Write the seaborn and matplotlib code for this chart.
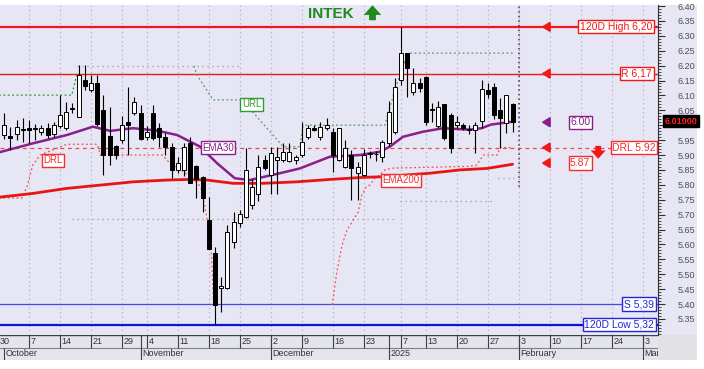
import matplotlib
matplotlib.use("Agg")
import matplotlib.pyplot as plt
import seaborn as sns
from matplotlib.patches import Rectangle

# ---------------- data ----------------
day = list(range(83))
opens = [5.966, 5.964, 5.969, 5.986, 5.992, 5.987, 5.978, 5.992, 5.969, 5.998,
         5.991, 6.057, 6.028, 6.152, 6.118, 6.141, 6.051, 5.964, 5.931, 5.950,
         6.012, 6.040, 6.040, 5.959, 6.040, 5.990, 5.961, 5.928, 5.850, 5.850,
         5.941, 5.863, 5.827, 5.682, 5.571, 5.454, 5.453, 5.609, 5.672, 5.693,
         5.732, 5.770, 5.883, 5.833, 5.883, 5.883, 5.880, 5.883, 5.900, 5.961,
         5.990, 5.959, 5.990, 5.978, 5.883, 5.861, 5.900, 5.838, 5.833, 5.903,
         5.902, 5.894, 5.939, 5.978, 6.152, 6.241, 6.112, 6.141, 6.163, 6.052,
         5.999, 6.070, 6.034, 6.000, 6.000, 5.984, 5.984, 6.015, 6.118, 6.129,
         6.051, 6.006, 6.071]
highs = [6.040, 5.995, 6.017, 6.024, 6.017, 6.004, 6.000, 6.007, 6.010, 6.100,
         6.078, 6.076, 6.202, 6.202, 6.168, 6.168, 6.101, 6.061, 5.935, 6.030,
         6.128, 6.094, 6.067, 5.997, 6.067, 6.007, 5.973, 5.940, 5.893, 5.940,
         5.961, 5.866, 5.830, 5.760, 5.591, 5.490, 5.665, 5.710, 5.715, 5.922,
         5.820, 5.900, 5.900, 5.928, 5.928, 5.940, 5.940, 5.900, 6.012, 6.000,
         6.000, 6.012, 6.023, 5.990, 5.990, 5.950, 5.917, 5.877, 5.920, 5.915,
         5.915, 5.950, 6.080, 6.158, 6.330, 6.241, 6.191, 6.158, 6.165, 6.075,
         6.080, 6.070, 6.040, 6.030, 6.008, 6.000, 6.012, 6.152, 6.140, 6.140,
         6.090, 6.101, 6.075]
lows = [5.953, 5.917, 5.950, 5.944, 5.940, 5.950, 5.967, 5.957, 5.960, 5.990,
        5.984, 6.040, 6.028, 6.118, 6.111, 5.997, 5.833, 5.866, 5.885, 5.940,
        5.900, 6.034, 5.950, 5.950, 5.950, 5.927, 5.900, 5.823, 5.840, 5.830,
        5.805, 5.756, 5.710, 5.585, 5.330, 5.374, 5.450, 5.588, 5.660, 5.690,
        5.720, 5.745, 5.850, 5.770, 5.770, 5.875, 5.875, 5.870, 5.895, 5.955,
        5.980, 5.950, 5.985, 5.844, 5.880, 5.855, 5.750, 5.750, 5.830, 5.890,
        5.880, 5.877, 5.930, 5.970, 6.135, 6.096, 6.101, 6.110, 6.000, 6.012,
        5.990, 5.950, 5.906, 5.990, 5.985, 5.970, 5.906, 5.990, 6.090, 6.020,
        5.922, 5.973, 5.978]
closes = [6.000, 5.956, 5.995, 5.984, 5.984, 5.988, 5.992, 5.967, 6.000, 6.034,
          6.044, 6.054, 6.168, 6.132, 6.142, 6.004, 5.900, 5.900, 5.900, 6.000,
          6.001, 6.079, 5.953, 5.978, 5.956, 5.961, 5.928, 5.850, 5.873, 5.927,
          5.805, 5.818, 5.755, 5.585, 5.395, 5.460, 5.643, 5.675, 5.702, 5.850,
          5.794, 5.860, 5.855, 5.908, 5.894, 5.911, 5.910, 5.894, 5.945, 5.990,
          5.984, 5.995, 6.000, 5.900, 5.990, 5.922, 5.855, 5.861, 5.900, 5.906,
          5.904, 5.945, 6.045, 6.129, 6.241, 6.191, 6.141, 6.124, 6.012, 6.050,
          6.062, 5.956, 5.922, 6.010, 5.990, 5.985, 6.000, 6.120, 6.104, 6.034,
          6.023, 6.101, 6.010]

ema30_day = [-1, 4.6, 10.1, 14.3, 17.1, 20.8, 24.6, 27.9, 31.6, 34.3, 37.2, 39.6,
             44.5, 47.7, 52.5, 57.4, 60.6, 62.2, 64.3, 67.5, 70.8, 75.0, 77.0, 78.5, 82.0]
ema30_val = [5.908, 5.939, 5.967, 5.995, 5.981, 5.990, 5.982, 5.967, 5.928, 5.873,
             5.822, 5.816, 5.839, 5.855, 5.894, 5.900, 5.911, 5.928, 5.961, 5.978,
             5.990, 5.985, 5.990, 6.002, 6.012]

ema200_day = [-1, 4.6, 10.1, 15.5, 20.8, 26.3, 29.5, 32.7, 36.9, 41.7, 47.2, 52.5,
              57.9, 61.1, 68.7, 73.5, 77.9, 82.0]
ema200_val = [5.758, 5.771, 5.788, 5.799, 5.810, 5.816, 5.818, 5.816, 5.805, 5.805,
              5.810, 5.818, 5.825, 5.827, 5.839, 5.850, 5.855, 5.869]

url1_day = [-1, 10.9, 11.7]
url1_val = [6.101, 6.101, 6.168]
url2_day = [30.6, 31.1, 33.7, 38.0, 40.1, 45.0, 47.7, 48.2, 61.4, 63.0, 65.1, 82.1]
url2_val = [6.199, 6.168, 6.085, 6.085, 6.044, 5.928, 5.928, 6.000, 6.000, 6.118, 6.242, 6.242]

drl1_day = [-1, 2.9, 3.7, 4.6, 5.8, 10.1, 15.0, 15.5, 25.5, 26.7, 30.0, 31.7, 32.3, 32.9, 33.4, 33.8]
drl1_val = [5.756, 5.756, 5.796, 5.866, 5.900, 5.936, 5.936, 5.900, 5.900, 5.873, 5.829,
            5.793, 5.732, 5.665, 5.581, 5.393]
drl2_day = [52.9, 53.7, 54.5, 55.3, 56.1, 57.1, 57.7, 58.4, 59.0, 59.8, 60.6, 61.4, 62.5,
            75.0, 76.2, 77.3, 79.5, 80.0, 82.1]
drl2_val = [5.397, 5.514, 5.598, 5.648, 5.675, 5.709, 5.766, 5.793, 5.800, 5.823, 5.833,
            5.850, 5.856, 5.862, 5.866, 5.900, 5.900, 5.925, 5.925]

gray_start = [11.7, 11.0, 63.8, 79.6]
gray_end = [38.0, 63.4, 79.0, 82.2]
gray_level = [6.199, 5.685, 5.747, 5.822]

week_pos = [-1, 4, 9, 14, 19, 23, 28, 33, 38, 43, 48, 53, 58, 64, 68, 73, 78, 83, 88, 93, 98, 103]
week_labels = ['30', '7', '14', '21', '29', '4', '11', '18', '25', '2', '9', '16', '23',
               '7', '13', '20', '27', '3', '10', '17', '24', '3']
month_pos = [0, 22, 43, 62, 83, 103]
month_labels = ['October', 'November', 'December', '2025', 'February', 'March']

high120, high120_label = 6.330, '120D High 6,20'
res_level, res_label = 6.173, 'R 6,17'
drl_level, drl_label = 5.925, 'DRL 5.92'
sup_level, sup_label = 5.400, 'S 5,39'
low120, low120_label = 5.330, '120D Low 5,32'
ema30_last, ema30_last_label = 6.010, '6.00'
ema200_last, ema200_last_label = 5.873, '5.87'
last_price, last_price_label = 6.010, '6.01000'
today_pos = 83
y_ticks = [5.35 + 0.05 * k for k in range(22)]

# ---------------- style ----------------
sns.set_theme(style="white")
plt.rcParams['font.family'] = ['Liberation Sans', 'DejaVu Sans']

W, H = 704, 369
BG = '#e6e6f4'
RED = '#f01818'
BLUE = '#2424d8'
PURPLE = '#8a1e8a'
GREEN = '#2f9a2f'

fig = plt.figure(figsize=(W / 100, H / 100), dpi=100)
fig.patch.set_facecolor('white')
fig.add_artist(Rectangle((0, (H - 335) / H), 697 / W, 330 / H, transform=fig.transFigure,
                         facecolor=BG, edgecolor='none', zorder=0))
fig.add_artist(Rectangle((658 / W, (H - 360) / H), 39 / W, 25 / H, transform=fig.transFigure,
                         facecolor='#e2e2e6', edgecolor='none', zorder=0))

ax = fig.add_axes([0, (H - 335) / H, 658 / W, 330 / H])
ax.set_facecolor(BG)
xmin, xmax = -0.677, 105.45
ymin, ymax = 5.2960, 6.4034
ax.set_xlim(xmin, xmax)
ax.set_ylim(ymin, ymax)

# vertical grid
for p in week_pos:
    ax.axvline(p, color='#a8a8b8', lw=0.8, ls=(0, (1, 3)), zorder=1)

# horizontal levels
ax.axhline(high120, color=RED, lw=1.6, zorder=2)
ax.axhline(res_level, color=RED, lw=1.0, zorder=2)
ax.axhline(drl_level, color='#f04848', lw=0.9, ls=(0, (3, 3)), zorder=2)
ax.axhline(sup_level, color='#4848f0', lw=0.9, zorder=2)
ax.axhline(low120, color='#1010d8', lw=1.6, zorder=2)

# dotted helper lines
for s, e, lv in zip(gray_start, gray_end, gray_level):
    ax.hlines(lv, s, e, color='#9a9aa8', lw=0.9, ls=(0, (1, 3)), zorder=2)

sns.lineplot(x=url1_day, y=url1_val, ax=ax, color=GREEN, lw=0.9, ls=(0, (1.5, 2)),
             sort=False, estimator=None, zorder=2)
sns.lineplot(x=url2_day, y=url2_val, ax=ax, color='#5a9a6a', lw=0.9, ls=(0, (1.5, 2)),
             sort=False, estimator=None, zorder=2)
sns.lineplot(x=drl1_day, y=drl1_val, ax=ax, color='#f05050', lw=0.9, ls=(0, (1.5, 2)),
             sort=False, estimator=None, zorder=2)
sns.lineplot(x=drl2_day, y=drl2_val, ax=ax, color='#f05050', lw=0.9, ls=(0, (1.5, 2)),
             sort=False, estimator=None, zorder=2)

# today marker
ax.vlines(today_pos, 5.793, ymax, color='#5a2a5a', lw=1.1, ls=(0, (1, 2)), zorder=2)

# moving averages
sns.lineplot(x=ema200_day, y=ema200_val, ax=ax, color='#e81414', lw=2.0, sort=False,
             estimator=None, zorder=3)
sns.lineplot(x=ema30_day, y=ema30_val, ax=ax, color=PURPLE, lw=1.8, sort=False,
             estimator=None, zorder=3)

# candles
ax.vlines(day, lows, highs, color='black', lw=0.8, zorder=4)
for d, o, c in zip(day, opens, closes):
    bottom = min(o, c)
    h = max(abs(c - o), 0.003)
    fc = 'white' if c >= o else 'black'
    ax.bar(d, h, bottom=bottom, width=0.62, color=fc, edgecolor='black', lw=0.7, zorder=5)

# right labels
def box(x, y, s, col, ha='right', fs=7.5, fc='white'):
    ax.text(x, y, s, ha=ha, va='center', fontsize=fs, color=col, zorder=8,
            bbox=dict(boxstyle='square,pad=0.15', fc=fc, ec=col, lw=1.0))

box(104.5, high120, high120_label, RED)
box(104.5, res_level, res_label, RED)
box(105.1, drl_level, drl_label, '#f03030')
box(104.8, sup_level, sup_label, BLUE)
box(104.8, low120, low120_label, BLUE)
box(92.9, ema30_last, ema30_last_label, PURPLE, ha='center')
box(92.9, ema200_last, ema200_last_label, '#f03030', ha='center')

# line name labels
box(34.5, 5.925, 'EMA30', PURPLE, ha='center', fs=7)
box(7.9, 5.883, 'DRL', '#f03030', ha='center', fs=7)
box(39.9, 6.071, 'URL', GREEN, ha='center', fs=7)
box(64.0, 5.816, 'EMA200', '#f03030', ha='center', fs=7)

# arrows
for lv, col in [(high120, RED), (res_level, RED), (drl_level, RED),
                (ema200_last, RED), (ema30_last, PURPLE)]:
    ax.annotate('', xy=(86.2, lv), xytext=(88.2, lv), zorder=8,
                arrowprops=dict(arrowstyle='-|>,head_length=0.45,head_width=0.28',
                                color=col, lw=1.6, mutation_scale=10))
ax.annotate('', xy=(95.8, 5.878), xytext=(95.8, 5.940), zorder=8,
            arrowprops=dict(arrowstyle='simple,head_length=0.5,head_width=0.9,tail_width=0.35',
                            color=RED, mutation_scale=12, lw=0))

# title
ax.text(49.0, 6.372, 'INTEK', ha='left', va='center', fontsize=11, fontweight='bold',
        color='#1e8a1e', zorder=8)
ax.annotate('', xy=(59.4, 6.412), xytext=(59.4, 6.343), zorder=8, annotation_clip=False,
            arrowprops=dict(arrowstyle='simple,head_length=0.5,head_width=0.9,tail_width=0.35',
                            color='#1e8a1e', mutation_scale=14, lw=0))

# right price axis (the 6.00 label sits under the last-price box)
ax.yaxis.tick_right()
ax.set_yticks(y_ticks)
ax.set_yticklabels(['' if abs(v - 6.0) < 1e-6 else f'{v:.2f}' for v in y_ticks])
ax.set_yticks([5.30 + 0.01 * k for k in range(111)], minor=True)
ax.tick_params(axis='y', which='major', right=True, length=5, width=0.8, color='#303030',
               labelsize=6.5, labelcolor='#505050', pad=9, direction='out')
ax.tick_params(axis='y', which='minor', right=True, length=2.5, width=0.6, color='#303030')
ax.set_xticks([])
for sp in ['top', 'left', 'bottom']:
    ax.spines[sp].set_visible(False)
ax.spines['right'].set_color('#303030')
ax.spines['right'].set_linewidth(0.8)

fig.text(681 / W, 1 - 121 / H, last_price_label, ha='center', va='center', fontsize=6.5,
         color='#ff2020', fontweight='bold',
         bbox=dict(boxstyle='square,pad=0.2', fc='black', ec='black'))

# date band
axb = fig.add_axes([0, (H - 360) / H, 658 / W, 25 / H])
axb.set_facecolor('#e4e4ec')
axb.set_xlim(xmin, xmax)
axb.set_ylim(0, 2)
axb.set_xticks([])
axb.set_yticks([])
for sp in axb.spines.values():
    sp.set_visible(False)
axb.axhline(2, color='#404040', lw=1.0)
axb.axhline(1, color='#808080', lw=0.8)
for p, lab in zip(week_pos, week_labels):
    axb.vlines(p, 1, 2, color='#404040', lw=0.8)
    axb.text(p + 0.25, 1.5, lab, ha='left', va='center', fontsize=6.5, color='#333333',
             clip_on=True)
for k, (p, lab) in enumerate(zip(month_pos, month_labels)):
    axb.vlines(p, 0, 1 if k == 0 else 2, color='#404040', lw=0.8)
    axb.text(p + 0.25, 0.5, lab, ha='left', va='center', fontsize=6.5, color='#333333',
             clip_on=True)

fig.savefig('out.png', dpi=100, facecolor='white')
